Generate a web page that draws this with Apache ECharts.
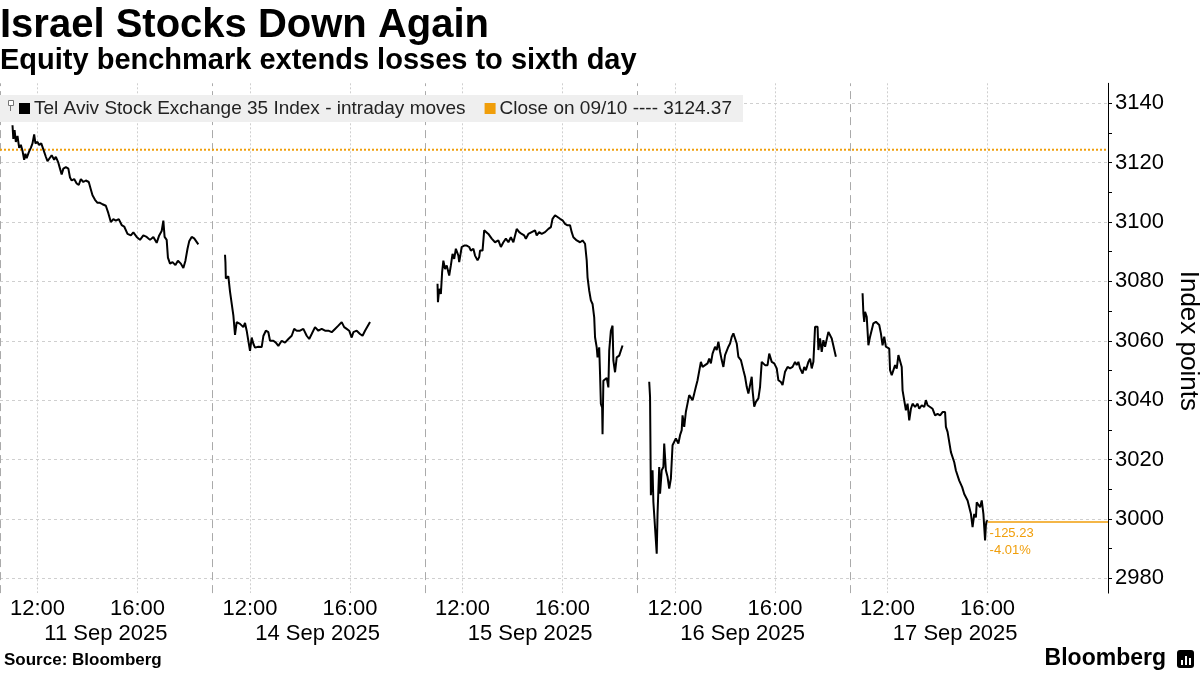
<!DOCTYPE html>
<html><head><meta charset="utf-8">
<script src="https://cdn.jsdelivr.net/npm/echarts@6/dist/echarts.min.js"></script>
<style>html,body{margin:0;padding:0;background:#fff}#c{width:1200px;height:675px}</style>
</head><body><div id="c"></div>
<script>
// ---------- data ----------
const dayLabels = ['11 Sep 2025', '14 Sep 2025', '15 Sep 2025', '16 Sep 2025', '17 Sep 2025'];
const tickTimes = ['12:00', '16:00'];
const yTicks = [2980, 3000, 3020, 3040, 3060, 3080, 3100, 3120, 3140];
const seriesName = 'Tel Aviv Stock Exchange 35 Index - intraday moves';
const prevCloseDate = '09/10';
const prevClose = 3124.37;

const d1Times = ['11:00','11:01','11:02','11:05','11:08','11:12','11:16','11:20','11:24','11:28','11:31','11:34','11:39','11:44','11:48','11:52','11:55','12:00','12:04','12:09','12:14','12:20','12:24','12:28','12:34','12:40','12:44','12:50','12:54','12:58','13:02','13:08','13:14','13:18','13:22','13:28','13:34','13:39','13:44','13:50','13:56','14:03','14:08','14:12','14:18','14:24','14:30','14:36','14:44','14:50','14:56','15:02','15:08','15:15','15:22','15:28','15:36','15:44','15:50','15:58','16:06','16:14','16:22','16:30','16:38','16:46','16:52','16:58','17:02','17:05','17:10','17:13','17:18','17:24','17:31','17:37','17:44','17:50','17:55','18:00','18:04','18:10','18:16','18:20','18:26'];
const d1Values = [3132.6,3133.0,3128.0,3131.0,3127.0,3129.0,3125.0,3126.0,3124.0,3121.0,3123.0,3121.5,3123.5,3125.0,3126.5,3129.5,3126.5,3127.0,3126.0,3126.5,3124.5,3122.0,3120.5,3121.0,3122.5,3121.0,3122.0,3120.0,3118.0,3116.0,3118.0,3118.5,3118.0,3115.0,3114.0,3114.5,3113.0,3112.5,3114.5,3113.5,3114.0,3113.5,3111.0,3109.0,3107.5,3106.5,3106.5,3106.0,3105.5,3103.0,3100.0,3101.0,3100.5,3101.0,3099.0,3098.5,3096.0,3095.5,3096.5,3095.0,3094.0,3095.5,3095.0,3094.0,3095.0,3093.0,3095.5,3097.0,3100.5,3095.0,3094.0,3088.0,3086.0,3086.5,3085.5,3087.0,3086.0,3084.5,3087.0,3091.0,3093.5,3095.0,3094.5,3094.0,3092.5];

const d2Times = ['11:00','11:01','11:02','11:08','11:12','11:16','11:20','11:24','11:28','11:36','11:44','11:48','11:52','11:56','12:00','12:04','12:08','12:12','12:20','12:28','12:32','12:38','12:44','12:48','12:56','13:02','13:08','13:16','13:24','13:32','13:40','13:46','13:52','14:00','14:08','14:16','14:22','14:28','14:36','14:44','14:52','15:00','15:08','15:16','15:24','15:32','15:40','15:46','15:52','15:58','16:04','16:08','16:16','16:24','16:30','16:36','16:48'];
const d2Values = [3089.0,3086.5,3081.0,3081.7,3076.6,3077.0,3068.6,3062.0,3066.3,3065.7,3064.6,3066.0,3063.4,3060.0,3056.6,3061.1,3059.0,3057.7,3058.0,3057.9,3061.6,3063.4,3062.9,3060.0,3060.0,3059.4,3058.3,3060.0,3059.4,3060.6,3061.7,3064.0,3063.4,3063.4,3064.0,3061.7,3060.6,3062.3,3064.6,3063.4,3064.0,3063.4,3063.4,3062.9,3064.0,3065.1,3066.3,3064.6,3064.0,3063.4,3061.1,3062.9,3063.4,3062.3,3061.7,3063.4,3066.3];

const d3Times = ['11:00','11:01','11:04','11:08','11:11','11:14','11:18','11:22','11:28','11:32','11:36','11:40','11:44','11:50','11:52','11:58','12:04','12:10','12:16','12:20','12:26','12:30','12:36','12:40','12:42','12:48','12:52','12:56','13:02','13:10','13:18','13:26','13:32','13:38','13:44','13:50','13:56','14:02','14:06','14:10','14:16','14:22','14:28','14:32','14:38','14:46','14:54','14:58','15:04','15:10','15:18','15:26','15:32','15:36','15:42','15:48','15:54','16:00','16:06','16:12','16:18','16:22','16:26','16:34','16:42','16:48','16:54','16:58','17:00','17:04','17:08','17:12','17:16','17:18','17:22','17:24','17:28','17:30','17:32','17:35','17:36','17:38','17:42','17:46','17:50','17:52','17:56','18:00','18:02','18:06','18:10','18:16','18:24'];
const d3Values = [3079.2,3073.0,3077.5,3075.8,3083.1,3087.0,3084.2,3085.4,3082.0,3085.4,3089.3,3087.6,3091.0,3088.7,3086.5,3091.6,3092.1,3092.1,3091.6,3090.4,3091.0,3088.7,3087.1,3088.2,3090.4,3090.4,3097.2,3096.6,3096.0,3094.4,3093.2,3093.8,3091.6,3093.2,3094.4,3093.2,3094.9,3093.2,3092.7,3097.7,3096.6,3096.0,3095.5,3094.4,3096.0,3096.6,3097.2,3095.5,3096.6,3096.0,3096.6,3097.7,3098.3,3101.1,3102.3,3101.7,3101.1,3100.6,3099.4,3098.9,3098.9,3096.6,3094.9,3093.8,3093.2,3093.8,3092.7,3087.1,3081.4,3076.9,3073.6,3072.4,3067.9,3061.2,3057.8,3054.4,3057.8,3048.8,3038.7,3037.5,3028.5,3046.5,3046.0,3047.5,3044.3,3056.7,3063.4,3065.1,3053.3,3049.4,3054.4,3055.0,3058.4];

const d4Times = ['10:58','11:00','11:02','11:04','11:06','11:08','11:12','11:16','11:18','11:22','11:24','11:28','11:32','11:34','11:38','11:42','11:46','11:50','11:54','11:58','12:02','12:08','12:12','12:16','12:18','12:22','12:26','12:30','12:34','12:38','12:42','12:46','12:50','12:54','12:58','13:02','13:06','13:12','13:18','13:22','13:26','13:30','13:36','13:40','13:44','13:48','13:52','13:56','14:00','14:04','14:08','14:12','14:16','14:20','14:24','14:28','14:32','14:38','14:44','14:48','14:52','14:56','15:00','15:04','15:06','15:10','15:14','15:20','15:24','15:28','15:32','15:36','15:42','15:46','15:52','15:58','16:04','16:08','16:14','16:18','16:24','16:30','16:36','16:42','16:48','16:52','16:56','17:00','17:06','17:10','17:14','17:20','17:24','17:28','17:32','17:36','17:42','17:44','17:48','17:52','17:56','18:00','18:04','18:08','18:12','18:16','18:26'];
const d4Values = [3046.2,3041.1,3008.0,3013.0,3016.4,3005.7,3005.2,2988.3,3001.8,3017.5,3008.5,3016.4,3017.5,3025.4,3016.4,3014.2,3010.2,3013.6,3024.8,3025.4,3027.1,3025.4,3028.2,3029.9,3034.9,3031.0,3036.1,3038.9,3041.7,3041.1,3040.0,3042.2,3044.5,3046.7,3047.3,3052.9,3051.2,3051.8,3052.4,3054.0,3052.4,3055.7,3058.0,3056.9,3059.7,3056.3,3053.5,3051.2,3055.2,3054.6,3058.0,3059.1,3061.3,3062.5,3061.9,3059.1,3054.6,3053.5,3050.1,3047.9,3044.5,3042.2,3041.7,3047.9,3043.3,3037.8,3039.4,3040.6,3044.5,3052.9,3052.4,3051.8,3051.8,3055.7,3052.9,3052.4,3050.7,3046.7,3046.1,3045.1,3049.6,3051.2,3050.7,3051.2,3052.9,3051.8,3052.9,3050.7,3049.0,3051.2,3050.1,3052.9,3054.0,3050.7,3052.9,3064.7,3064.7,3056.9,3060.8,3056.3,3060.2,3058.0,3058.5,3063.0,3063.0,3060.8,3054.6];

const d5Times = ['11:00','11:02','11:04','11:06','11:10','11:14','11:18','11:22','11:26','11:32','11:36','11:40','11:44','11:48','11:52','11:56','12:00','12:04','12:06','12:10','12:14','12:18','12:22','12:26','12:30','12:34','12:36','12:40','12:44','12:48','12:52','12:56','13:00','13:06','13:12','13:16','13:22','13:28','13:32','13:36','13:42','13:48','13:54','14:00','14:06','14:12','14:18','14:20','14:24','14:28','14:32','14:36','14:40','14:44','14:48','14:52','14:56','14:59','15:04','15:08','15:12','15:16','15:20','15:24','15:28','15:32','15:34','15:38','15:42','15:46','15:50','15:52','15:54','15:56','15:58','16:00'];
const d5Values = [3076.0,3069.2,3066.4,3069.8,3068.1,3058.5,3061.4,3062.0,3065.9,3066.4,3067.0,3065.3,3062.5,3058.5,3061.4,3058.0,3058.5,3057.4,3050.1,3048.4,3050.1,3051.8,3050.6,3055.2,3055.7,3051.2,3043.3,3042.7,3036.6,3038.8,3033.2,3037.1,3038.8,3037.7,3038.8,3037.1,3038.3,3037.7,3040.0,3038.3,3037.7,3037.1,3034.9,3035.4,3034.9,3036.0,3036.0,3031.0,3029.3,3029.3,3022.5,3021.9,3019.1,3016.3,3016.3,3012.9,3012.9,3010.7,3008.4,3007.9,3006.2,3006.2,3001.7,2997.2,3001.7,3000.5,3005.6,3005.6,3003.9,3006.2,3001.7,2997.2,2992.7,2998.0,2999.4,2999.14];

const dayTimes = [d1Times, d2Times, d3Times, d4Times, d5Times];
const dayValues = [d1Values, d2Values, d3Values, d4Values, d5Values];

// ---------- axis construction ----------
const FONT = 'Liberation Sans';
const ORANGE = '#F09E0A';
const DAY_START = 10 * 60 + 30;   // each session window starts 10:30
const DAY_LEN = 510;              // 8.5 h window per day, in minutes
const PAD_AFTER = 110;            // empty room after the last session
const NDAYS = dayLabels.length;
const N = NDAYS * DAY_LEN + PAD_AFTER;

function hhmm(m) { const h = Math.floor(m / 60), mm = m % 60; return (h < 10 ? '0' : '') + h + ':' + (mm < 10 ? '0' : '') + mm; }
function toMin(t) { const p = t.split(':'); return +p[0] * 60 + +p[1]; }
const categories = [];
for (let d = 0; d < NDAYS; d++) for (let m = 0; m < DAY_LEN; m++) categories.push(dayLabels[d] + ' ' + hhmm(DAY_START + m));
for (let i = 0; i < PAD_AFTER; i++) categories.push('');
function toIdx(d, t) { return d * DAY_LEN + toMin(t) - DAY_START; }
const tickOffsets = tickTimes.map(t => toMin(t) - DAY_START);
const dateOffset = tickOffsets[1] + 72;
function isTick(idx) { return idx < NDAYS * DAY_LEN && tickOffsets.indexOf(idx % DAY_LEN) >= 0; }

const lastDay = NDAYS - 1;
const lastIdx = toIdx(lastDay, d5Times[d5Times.length - 1]);
const lastVal = d5Values[d5Values.length - 1];
const chg = lastVal - prevClose;
const chgPct = chg / prevClose * 100;

const dayLines = dayTimes.map((times, d) => {
  const s = {
    type: 'line', name: seriesName, xAxisIndex: 0, yAxisIndex: 0,
    data: times.map((t, i) => [toIdx(d, t), dayValues[d][i]]),
    showSymbol: false, symbol: 'none', color: '#000',
    lineStyle: { color: '#000', width: 2 }, z: 3, silent: true
  };
  if (d === lastDay) {
    s.markLine = {
      silent: true, symbol: 'none', animation: false, z: 3,
      lineStyle: { color: ORANGE, width: 1.5, type: 'solid', opacity: 1 },
      label: {
        show: true, position: 'insideStartBottom', distance: [2, 3],
        formatter: '-' + Math.abs(chg).toFixed(2) + '\n-' + Math.abs(chgPct).toFixed(2) + '%',
        color: ORANGE, fontFamily: FONT, fontSize: 13, lineHeight: 17, align: 'left'
      },
      data: [[{ coord: [lastIdx, lastVal] }, { coord: [N - 1, lastVal] }]]
    };
  }
  return s;
});

const closeName = 'Close on ' + prevCloseDate + ' ---- ' + prevClose.toFixed(2);
const closeSeries = {
  type: 'line', name: closeName, xAxisIndex: 0, yAxisIndex: 0,
  data: [[0, prevClose], [N - 1, prevClose]],
  showSymbol: false, symbol: 'none', color: ORANGE,
  lineStyle: { color: ORANGE, width: 2, type: [2, 2] }, z: 2, silent: true,
  markLine: {
    silent: true, symbol: 'none', animation: false, label: { show: false }, z: 1,
    lineStyle: { color: '#aaa', width: 1, type: [8, 5] },
    data: dayLabels.map((_, d) => ({ xAxis: d * DAY_LEN }))
  }
};

const chart = echarts.init(document.getElementById('c'), null, { renderer: 'canvas' });
chart.setOption({
  animation: false,
  backgroundColor: '#fff',
  textStyle: { fontFamily: FONT },
  title: [
    { text: 'Israel Stocks Down Again', left: 0, top: 6, padding: 0,
      textStyle: { fontFamily: FONT, fontSize: 40, fontWeight: 'bold', color: '#000' } },
    { text: 'Equity benchmark extends losses to sixth day', left: 0, top: 46, padding: 0,
      textStyle: { fontFamily: FONT, fontSize: 29, fontWeight: 'bold', color: '#000' } }
  ],
  legend: {
    left: 0, top: 95, padding: [4, 11, 4, 19], itemGap: 19, itemWidth: 11, itemHeight: 11,
    backgroundColor: '#efefef', icon: 'rect', z: 10,
    textStyle: { fontFamily: FONT, fontSize: 19, color: '#222', padding: [0, 0, 0, -1] },
    itemStyle: { borderWidth: 0 },
    data: [{ name: seriesName }, { name: closeName }]
  },
  grid: [
    { left: 0, right: 92, top: 83.3, bottom: 81.9, containLabel: false, outerBoundsMode: 'none' },
    { left: 0, right: 92, top: 103.3, bottom: 96.7, containLabel: false, outerBoundsMode: 'none' }
  ],
  xAxis: [
    { type: 'category', gridIndex: 0, data: categories, boundaryGap: false, position: 'bottom',
      axisLine: { show: false }, axisTick: { show: false },
      axisLabel: { interval: (i) => isTick(i), formatter: v => v.slice(-5), color: '#000',
        fontFamily: FONT, fontSize: 22, margin: 5 },
      splitLine: { show: true, interval: (i) => isTick(i), lineStyle: { color: '#cfcfcf', type: [2, 2], width: 1 } } },
    { type: 'category', gridIndex: 0, data: categories, boundaryGap: false, position: 'bottom',
      axisLine: { show: false }, axisTick: { show: false }, splitLine: { show: false },
      axisLabel: { interval: (i) => i < NDAYS * DAY_LEN && i % DAY_LEN === dateOffset,
        formatter: v => v.slice(0, 11), align: 'right', color: '#000',
        fontFamily: FONT, fontSize: 22, margin: 30 } },
    { type: 'value', gridIndex: 1, min: 0, max: 1, show: false }
  ],
  yAxis: [
    { type: 'value', gridIndex: 0, position: 'right', min: 2975, max: 3146.75,
      axisLine: { show: true, lineStyle: { color: '#000', width: 1 } },
      axisTick: { show: false }, axisLabel: { show: false }, splitLine: { show: false } },
    { type: 'value', gridIndex: 1, position: 'right', min: yTicks[0], max: yTicks[yTicks.length - 1], interval: 20,
      axisLine: { show: false }, axisTick: { show: false },
      axisLabel: { color: '#000', fontFamily: FONT, fontSize: 22, margin: 7, formatter: v => String(v) },
      splitLine: { show: true, lineStyle: { color: '#cfcfcf', type: [3, 3], width: 1 } },
      name: 'Index points', nameLocation: 'middle', nameRotate: -90, nameGap: 53,
      nameTextStyle: { color: '#000', fontFamily: FONT, fontSize: 26 } },
    { type: 'value', gridIndex: 1, position: 'right', min: yTicks[0], max: yTicks[yTicks.length - 1], interval: 10,
      axisLine: { show: false }, axisLabel: { show: false }, splitLine: { show: false },
      axisTick: { show: true, inside: false, length: 4, lineStyle: { color: '#000', width: 1 } } }
  ],
  series: dayLines.concat([closeSeries]),
  graphic: [
    { type: 'rect', left: 8, top: 100, shape: { width: 5, height: 5 }, style: { fill: '#fff', stroke: '#777', lineWidth: 1 }, z: 100 },
    { type: 'line', shape: { x1: 10.5, y1: 105, x2: 10.5, y2: 111 }, style: { stroke: '#777', lineWidth: 1 }, z: 100 },
    { type: 'text', left: 4, top: 652, style: { text: 'Source: Bloomberg', fontFamily: FONT, fontSize: 17, fontWeight: 'bold', fill: '#000' } },
    { type: 'text', right: 34, top: 647, style: { text: 'Bloomberg', fontFamily: FONT, fontSize: 23, fontWeight: 'bold', fill: '#000' } },
    { type: 'rect', right: 6, top: 650, shape: { width: 17, height: 18, r: 3 }, style: { fill: '#000' } },
    { type: 'rect', right: 17, top: 660, shape: { width: 2, height: 5 }, style: { fill: '#fff' }, z: 101 },
    { type: 'rect', right: 13, top: 656, shape: { width: 2, height: 9 }, style: { fill: '#fff' }, z: 101 },
    { type: 'rect', right: 9, top: 658, shape: { width: 2, height: 7 }, style: { fill: '#fff' }, z: 101 }
  ]
});
</script>
</body></html>
